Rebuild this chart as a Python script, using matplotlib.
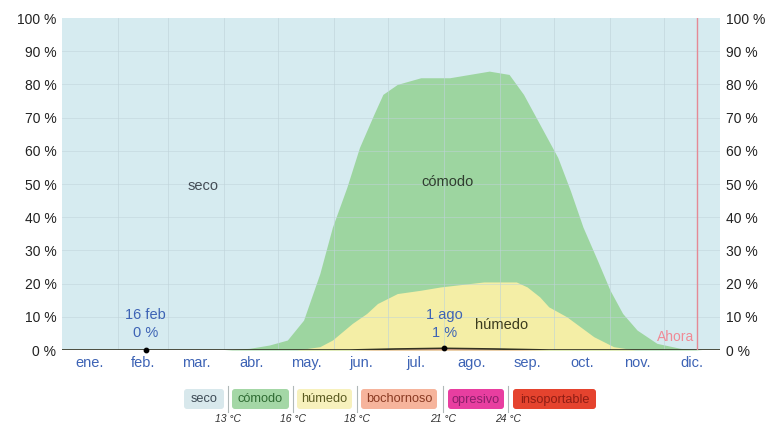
import matplotlib
matplotlib.use("Agg")
import matplotlib.pyplot as plt
from matplotlib.patches import FancyBboxPatch
import numpy as np

plt.rcParams['font.family'] = ['Liberation Sans', 'DejaVu Sans']

# ---- data (day of year, percent) ----
month_labels = ["ene.", "feb.", "mar.", "abr.", "may.", "jun.", "jul.", "ago.", "sep.", "oct.", "nov.", "dic."]
month_starts = [0, 31, 59, 90, 120, 151, 181, 212, 243, 273, 304, 334, 365]

comodo_days = [0, 90, 104, 115, 125, 134, 143, 150, 158, 165, 173, 178, 186, 199, 215, 237, 248, 256,
               265, 275, 282, 289, 297, 304, 311, 319, 330, 343, 355, 365]
comodo_top = [0, 0, 0.5, 1.5, 3, 9, 23, 37, 49, 61, 71, 77, 80, 82, 82, 84, 83, 77,
              68, 58, 48, 37, 27, 18, 11, 6, 2, 0.5, 0, 0]

humedo_days = [0, 130, 143, 150, 161, 169, 175, 186, 199, 210, 234, 252, 258, 265, 270, 280, 295, 306, 318, 365]
humedo_top = [0, 0, 1, 3, 8, 11, 14, 17, 18, 19, 20.5, 20.5, 19, 16, 13, 10, 4, 1, 0, 0]

muggy_days = [0, 160, 185, 212, 240, 270, 365]
muggy_val = [0, 0, 0.3, 0.5, 0.3, 0, 0]

yticks = list(range(0, 101, 10))
ytick_labels = [f"{v} %" for v in yticks]

ann_days = [46.5, 212]
ann_vals = [0, 0.5]
ann_text = ["16 feb\n0 %", "1 ago\n1 %"]
now_day = 352

legend_names = ["seco", "cómodo", "húmedo", "bochornoso", "opresivo", "insoportable"]
legend_temps = ["13 °C", "16 °C", "18 °C", "21 °C", "24 °C"]

# ---- colours ----
c_seco = "#d6ebf0"
c_comodo = "#9dd5a0"
c_humedo = "#f4eea6"
c_boch = "#f5b49a"
grid_c = "#bfd3d9"

W, H = 769, 426
fig = plt.figure(figsize=(W / 100, H / 100), dpi=100)
L, R, T, B = 62, 720, 18, 350
ax = fig.add_axes([L / W, 1 - B / H, (R - L) / W, (B - T) / H])
ax.set_xlim(0, 365)
ax.set_ylim(0, 100)
ax.set_facecolor(c_seco)

ax.fill_between(comodo_days, 0, comodo_top, color=c_comodo, lw=0, zorder=2)
ax.fill_between(humedo_days, 0, humedo_top, color=c_humedo, lw=0, zorder=3)
ax.fill_between(muggy_days, 0, muggy_val, color=c_boch, lw=0, zorder=4)

for y in yticks[1:-1]:
    ax.axhline(y, color=grid_c, lw=0.6, alpha=0.6, zorder=5)
for d in month_starts[1:-1]:
    ax.axvline(d, color=grid_c, lw=0.6, alpha=0.7, zorder=5)

ax.plot(muggy_days, muggy_val, color="#333322", lw=1.2, zorder=6)
ax.axvline(now_day, color="#e58a95", lw=1.0, zorder=6)
ax.text(now_day - 1.5, 3.8, "Ahora", color="#f08a96", fontsize=10, ha="right", va="center", zorder=7)

ax.scatter(ann_days, ann_vals, s=10, color="black", zorder=8, clip_on=False)
for d, t in zip(ann_days, ann_text):
    ax.text(d, 7.8, t, color="#3d63b5", fontsize=10.5, ha="center", va="center",
            linespacing=1.3, zorder=8)

ax.text(78, 49.5, "seco", color="#444c55", fontsize=10.5, ha="center", va="center", zorder=8)
ax.text(214, 50.5, "cómodo", color="#2f3d2f", fontsize=10.5, ha="center", va="center", zorder=8)
ax.text(244, 7.5, "húmedo", color="#3b3b1e", fontsize=10.5, ha="center", va="center", zorder=8)

mid = [(month_starts[i] + month_starts[i + 1]) / 2 for i in range(12)]
ax.set_xticks(mid)
ax.set_xticklabels(month_labels, color="#3d63b5", fontsize=10.5)
ax.tick_params(axis="x", length=0, pad=4)
ax.set_yticks(yticks)
ax.set_yticklabels(ytick_labels, fontsize=10, color="#222222")
ax.tick_params(axis="y", length=0, pad=4, labelright=True, labelleft=True)
for s in ax.spines.values():
    s.set_visible(False)

# ---- legend (pixel-space overlay) ----
lax = fig.add_axes([0, 0, 1, 1])
lax.set_xlim(0, W)
lax.set_ylim(H, 0)
lax.axis("off")
boxes = [(183, 225), (231, 290), (296, 353), (360, 438), (447, 505), (512, 597)]
box_face = ["#d8e8ec", "#a4d7a6", "#f7f1bd", "#f6b49c", "#e83ea0", "#e5432e"]
box_text = ["#3d4a55", "#2e6b32", "#5a5a20", "#8a3a22", "#8a1f6a", "#8e1d14"]
seps = [228, 293, 357, 443, 508]
for (x0, x1), fc, tc, name in zip(boxes, box_face, box_text, legend_names):
    p = FancyBboxPatch((x0 + 1, 389), x1 - x0 - 2, 20, boxstyle="round,pad=0,rounding_size=3",
                       fc=fc, ec="none")
    lax.add_patch(p)
    lax.text((x0 + x1) / 2, 399.5, name, color=tc, fontsize=9.2, ha="center", va="center")
for sx, t in zip(seps, legend_temps):
    lax.plot([sx, sx], [386, 412], color="#b0b8b8", lw=0.8)
    lax.text(sx, 419, t, fontsize=7.5, style="italic", color="#333333", ha="center", va="center")

fig.savefig("out.png", dpi=100)
